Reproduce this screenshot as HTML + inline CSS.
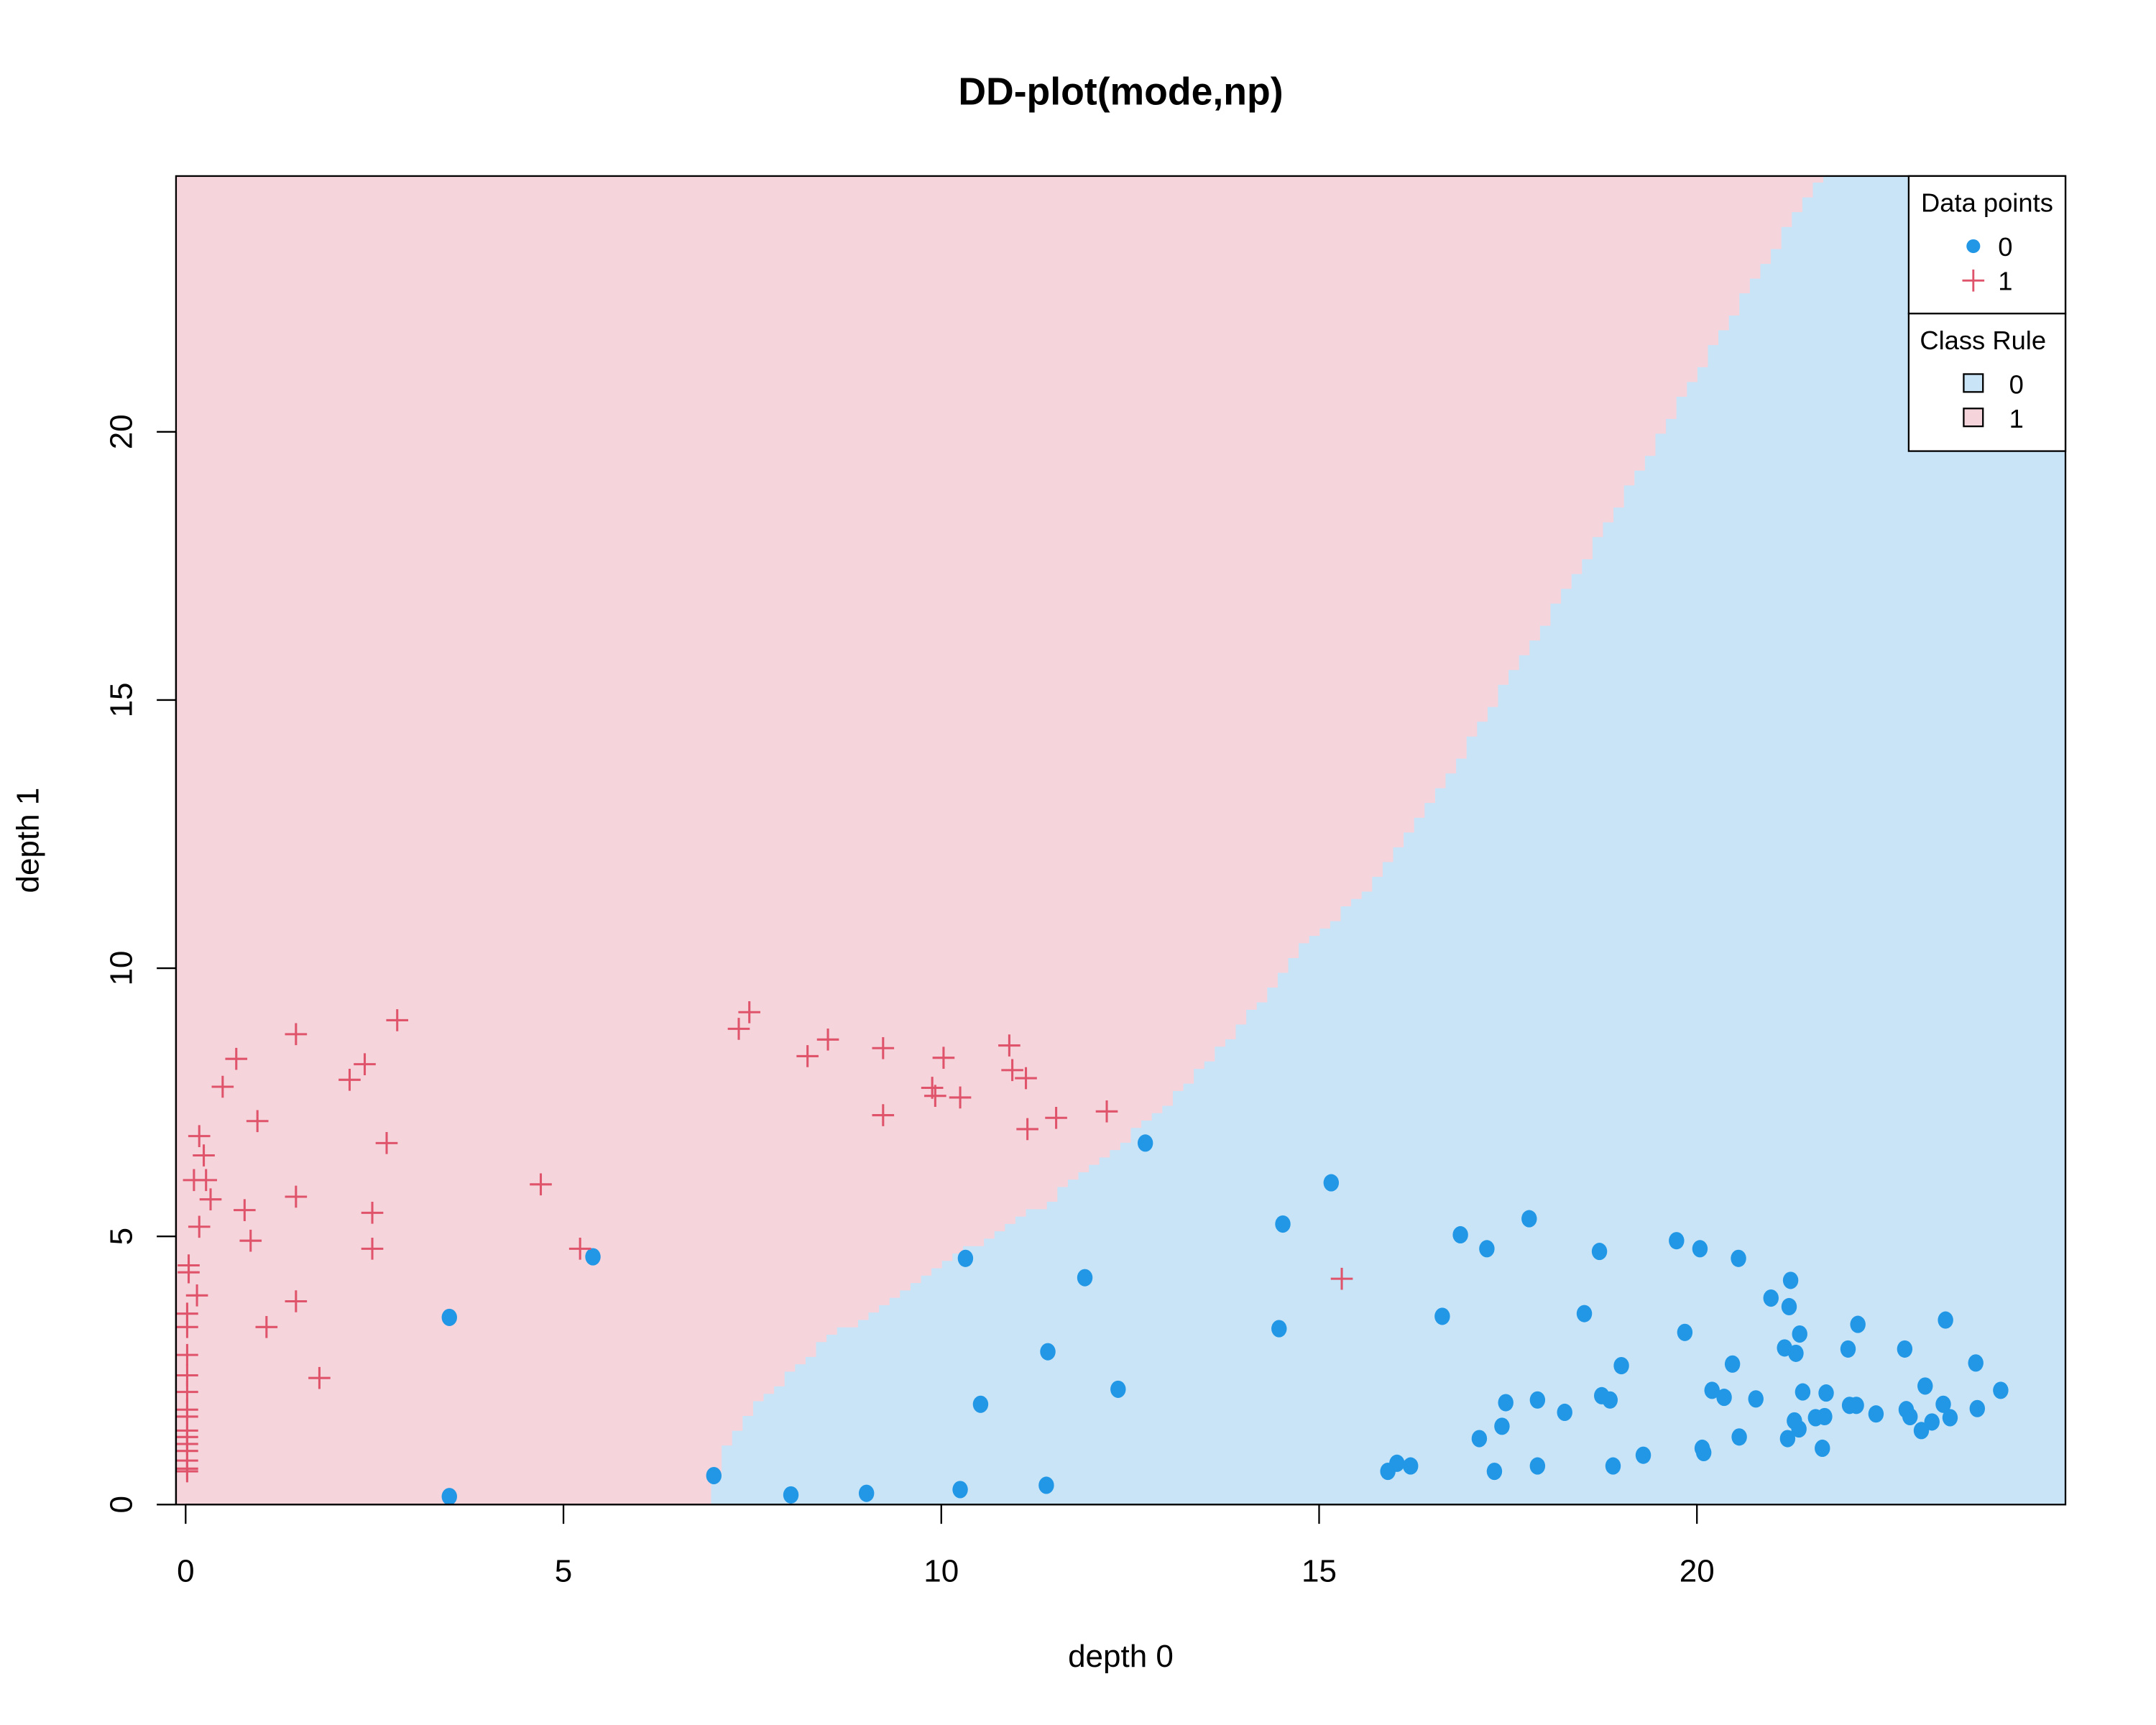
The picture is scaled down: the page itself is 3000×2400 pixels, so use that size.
<!DOCTYPE html>
<html><head><meta charset="utf-8"><style>
html,body{margin:0;padding:0;background:#fff}
svg{display:block}
text{font-family:"Liberation Sans",Arial,sans-serif;fill:#000}
</style></head><body>
<svg id="chart" xmlns="http://www.w3.org/2000/svg" width="3000" height="2400" viewBox="0 0 1560 1248">
<rect x="0" y="0" width="1560" height="1248" fill="#fff"/>
<g transform="scale(0.995)">
<g id="regions"></g>
<g id="pts"></g>
<rect x="128" y="128" width="1374" height="966" fill="none" stroke="#000" stroke-width="1.2"/>
<g id="axes"></g>
<text x="815" y="76" text-anchor="middle" font-size="28" font-weight="bold">DD-plot(mode,np)</text>
<text x="815" y="1212" text-anchor="middle" font-size="23">depth 0</text>
<text transform="translate(28,611) rotate(-90)" text-anchor="middle" font-size="23">depth 1</text>
<g>
<rect x="1388" y="128" width="114" height="100" fill="#fff" stroke="#000" stroke-width="1.2"/>
<text x="1445" y="154" text-anchor="middle" font-size="19">Data points</text>
<circle cx="1435" cy="179" r="5" fill="#2297E6"/>
<text x="1453" y="186" font-size="19">0</text>
<path d="M1427 204 H1443 M1435 196 V212" stroke="#DF536B" stroke-width="1.5"/>
<text x="1453" y="211" font-size="19">1</text>
</g>
<g>
<rect x="1388" y="228" width="114" height="100" fill="#fff" stroke="#000" stroke-width="1.2"/>
<text x="1442" y="254" text-anchor="middle" font-size="19">Class Rule</text>
<rect x="1428" y="272" width="14" height="13" fill="#C9E4F7" stroke="#000" stroke-width="1.2"/>
<text x="1461" y="286" font-size="19">0</text>
<rect x="1428" y="297" width="14" height="13" fill="#F6D4DB" stroke="#000" stroke-width="1.2"/>
<text x="1461" y="311" font-size="19">1</text>
</g>
</g>
</svg>
<script>
const xTicks=[0,5,10,15,20];
const yTicks=[0,5,10,15,20];
// class rule boundary (depth0 -> depth1)
const ruleD0=[6.88,7.1,7.39,8.46,9.37,10.28,11.37,12.1,13.0,13.9,14.8,15.74,16.65,17.56,18.47,19.38,20.3,21.2,21.65,23];
const ruleD1=[0,0.9,1.64,3.05,3.8,4.7,5.6,6.4,7.5,8.8,10.4,11.6,13.4,15.5,17.5,19.6,21.8,23.8,24.8,28];
const c1d0=[0.18,0.24,0.11,0.27,0.33,0.18,0.04,0.04,0.15,0.02,0.02,0.02,0.02,0.02,0.02,0.02,0.02,0.02,0.02,0.02,0.02,0.02,0.02,0.49,0.67,0.95,0.78,0.86,1.07,1.46,1.46,1.46,1.77,2.17,2.37,2.66,2.47,2.47,2.80,4.70,5.22,7.32,7.46,8.23,8.50,9.23,9.23,9.88,9.92,10.03,10.25,10.90,10.94,11.12,11.14,11.52,12.19,15.30];
const c1d1=[6.87,6.51,6.05,6.05,5.69,5.18,4.46,4.33,3.90,3.56,3.31,2.79,2.41,2.10,1.77,1.64,1.38,1.26,1.13,1.00,0.82,0.67,0.62,7.79,8.31,7.15,5.49,4.92,3.31,8.77,5.74,3.79,2.36,7.92,8.21,6.74,5.44,4.77,9.03,5.97,4.77,8.87,9.18,8.36,8.67,8.51,7.26,7.77,7.62,8.33,7.59,8.56,8.10,7.95,7.00,7.21,7.33,4.21];
const c0d0=[3.49,3.49,5.39,6.99,8.01,9.01,10.25,10.32,10.52,11.39,11.41,11.90,12.34,12.70,14.47,14.52,15.16,15.91,16.03,16.21,16.63,16.87,17.12,17.22,17.32,17.42,17.47,17.78,17.89,17.89,18.25,18.51,18.71,18.74,18.85,18.89,19.00,19.29,19.73,19.84,20.07,20.09,20.04,20.20,20.36,20.47,20.55,20.56,20.78,20.98,21.16,21.20,21.22,21.24,21.29,21.31,21.35,21.36,21.40,21.57,21.66,21.69,21.71,22.00,22.02,22.11,22.13,22.37,22.75,22.77,22.82,22.97,23.02,23.11,23.26,23.29,23.35,23.69,23.71,24.02];
const c0d1=[3.49,0.15,4.62,0.54,0.18,0.21,0.28,4.59,1.87,0.36,2.85,4.23,2.15,6.74,3.28,5.23,6.00,0.62,0.77,0.72,3.51,5.03,1.23,4.77,0.62,1.46,1.90,5.33,0.72,1.95,1.72,3.56,4.72,2.03,1.95,0.72,2.59,0.92,4.92,3.21,1.05,0.97,4.77,2.13,2.00,2.62,4.59,1.26,1.97,3.85,2.92,1.23,3.69,4.18,1.56,2.82,1.41,3.18,2.10,1.62,1.05,1.64,2.08,2.90,1.85,1.85,3.36,1.69,2.90,1.77,1.64,1.38,2.21,1.54,1.87,3.44,1.62,2.64,1.79,2.13];

const NS='http://www.w3.org/2000/svg';
const PL=128,PR=1502,PT=128,PB=1094;
const sx=v=>135+v*54.95, sy=v=>1094-v*39.0;
const ix=px=>(px-135)/54.95, iy=py=>(1094-py)/39.0;
function mk(tag,attrs,parent){const e=document.createElementNS(NS,tag);for(const k in attrs)e.setAttribute(k,attrs[k]);parent.appendChild(e);return e;}
function boundary(d0){
  if(d0<=ruleD0[0])return -1;
  for(let i=1;i<ruleD0.length;i++){if(d0<=ruleD0[i]){const t=(d0-ruleD0[i-1])/(ruleD0[i]-ruleD0[i-1]);return ruleD1[i-1]+t*(ruleD1[i]-ruleD1[i-1]);}}
  return 99;
}
const reg=document.getElementById('regions');
const bg=mk('rect',{x:PL,y:PT,width:PR-PL,height:PB-PT,fill:'#F6D4DB'},reg);


const cw=7.63, ch=5.37;
let d='M'+PL+' '+PB;
for(let cx=PL;cx<PR-0.01;cx+=cw){
  const mid=ix(cx+cw/2);
  const b=boundary(mid);
  let yp;
  if(b<0) yp=PB; else {yp=sy(b); yp=PB-Math.round((PB-yp)/ch)*ch; if(yp<PT)yp=PT;}
  const x2=Math.min(cx+cw,PR);
  d+=' L'+cx.toFixed(2)+' '+yp.toFixed(2)+' L'+x2.toFixed(2)+' '+yp.toFixed(2);
}
d+=' L'+PR+' '+PB+' Z';
const r0=mk('path',{d:d,fill:'#C9E4F7'},reg);



const ax=document.getElementById('axes');
mk('line',{x1:sx(xTicks[0]),x2:sx(xTicks[xTicks.length-1]),y1:1094,y2:1094,stroke:'#000','stroke-width':1.2},ax);
xTicks.forEach(t=>{
  const l=mk('line',{x1:sx(t),x2:sx(t),y1:1094,y2:1108,stroke:'#000','stroke-width':1.2},ax);
  
  
  const tx=mk('text',{x:sx(t),y:1150,'text-anchor':'middle','font-size':23},ax);
  tx.textContent=t;
  
  
});
mk('line',{x1:128,x2:128,y1:sy(yTicks[0]),y2:sy(yTicks[yTicks.length-1]),stroke:'#000','stroke-width':1.2},ax);
yTicks.forEach(t=>{
  const l=mk('line',{x1:114,x2:128,y1:sy(t),y2:sy(t),stroke:'#000','stroke-width':1.2},ax);
  
  
  const tx=mk('text',{transform:'translate(96,'+sy(t)+') rotate(-90)','text-anchor':'middle','font-size':23},ax);
  tx.textContent=t;
  
  
});

const pts=document.getElementById('pts');
c0d0.forEach((v,i)=>{
  const c=mk('ellipse',{cx:sx(v),cy:sy(c0d1[i]),rx:5.6,ry:6.3,fill:'#2297E6'},pts);
  
  
});
c1d0.forEach((v,i)=>{
  const x=sx(v),y=sy(c1d1[i]);
  const p=mk('path',{d:'M'+(x-8)+' '+y+' H'+(x+8)+' M'+x+' '+(y-8)+' V'+(y+8),stroke:'#DF536B','stroke-width':1.6,fill:'none'},pts);
  
  
});
</script>
</body></html>
